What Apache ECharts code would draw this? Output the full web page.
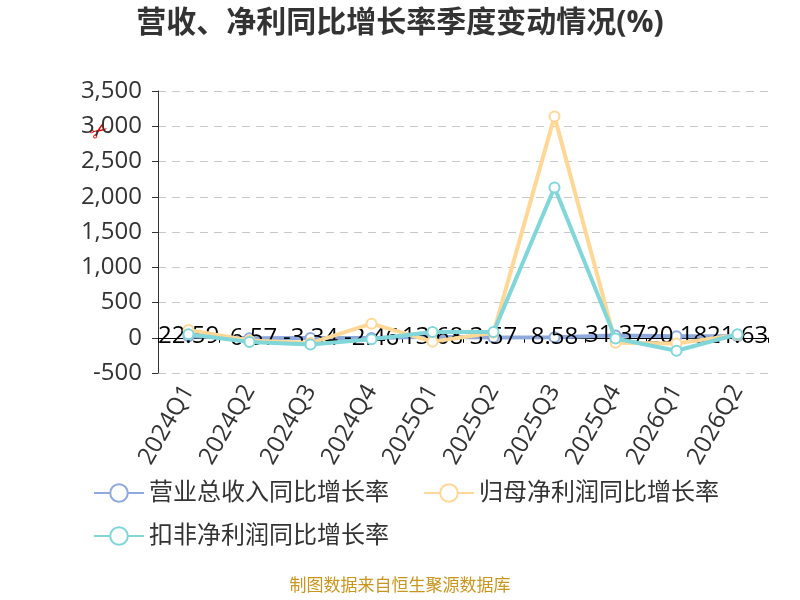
<!DOCTYPE html>
<html>
<head>
<meta charset="utf-8">
<script src="https://cdn.jsdelivr.net/npm/echarts@6/dist/echarts.min.js"></script>
<style>
html, body { margin: 0; padding: 0; background: #fff; }
#main { width: 800px; height: 600px; }
</style>
</head>
<body>
<div id="main"></div>
<script>
// 季度
var quarters = ['2024Q1', '2024Q2', '2024Q3', '2024Q4', '2025Q1', '2025Q2', '2025Q3', '2025Q4', '2026Q1', '2026Q2'];
// 营业总收入同比增长率
var revenueGrowth = [22.59, -6.57, -3.34, -2.46, 13.68, 3.57, 8.58, 31.37, 20.18, 21.63];
// 归母净利润同比增长率（图上估读）
var netProfitGrowth = [110, -40, -75, 200, -55, 70, 3140, -70, -80, 40];
// 扣非净利润同比增长率（图上估读）
var deductedGrowth = [50, -60, -95, -20, 80, 80, 2130, -10, -185, 50];
// y 轴刻度
var yMin = -500, yMax = 3500, yStep = 500;

var seriesNames = ['营业总收入同比增长率', '归母净利润同比增长率', '扣非净利润同比增长率'];
var colors = ['#8EA9DC', '#FFD796', '#80D6D9'];
var font = "'Open Sans', 'Noto Sans CJK SC', sans-serif";

var myChart = echarts.init(document.getElementById('main'));

function lineSeries(i, data, withLabel) {
    return {
        name: seriesNames[i],
        type: 'line',
        xAxisIndex: 0,
        data: data,
        symbol: 'emptyCircle',
        symbolSize: 10,
        lineStyle: { width: 4, color: colors[i] },
        itemStyle: { color: colors[i], borderWidth: 2 },
        label: withLabel ? {
            show: true,
            position: 'inside',
            color: '#000',
            fontSize: 24,
            fontFamily: font
        } : { show: false },
        z: 2 + i
    };
}

var option = {
    animation: false,
    title: [{
        text: '营收、净利同比增长率季度变动情况(%)',
        left: 'center',
        top: 3,
        textStyle: { fontSize: 30, fontWeight: 'bold', color: '#333', fontFamily: font }
    }, {
        text: '制图数据来自恒生聚源数据库',
        left: 'center',
        bottom: 0,
        textStyle: { fontSize: 17, fontWeight: 'normal', color: '#C8961E', fontFamily: font }
    }],
    legend: [{
        data: [seriesNames[0], seriesNames[1]],
        left: 88,
        top: 476,
        itemWidth: 50,
        itemHeight: 22,
        itemGap: 34,
        textStyle: { fontSize: 24, color: '#333', fontFamily: font }
    }, {
        data: [seriesNames[2]],
        left: 88,
        top: 519,
        itemWidth: 50,
        itemHeight: 22,
        textStyle: { fontSize: 24, color: '#333', fontFamily: font }
    }],
    grid: { left: 158, right: 32, top: 91, bottom: 227 },
    xAxis: [{
        type: 'category',
        data: quarters,
        axisLine: { onZero: true, lineStyle: { color: '#000', width: 1 } },
        axisTick: { show: true, length: 5 },
        axisLabel: { show: false }
    }, {
        type: 'category',
        data: quarters,
        position: 'bottom',
        axisLine: { show: false, onZero: false },
        axisTick: { show: false },
        axisLabel: {
            rotate: 60,
            fontSize: 24,
            color: '#333',
            margin: 14,
            fontFamily: font
        }
    }],
    yAxis: {
        type: 'value',
        min: yMin,
        max: yMax,
        interval: yStep,
        axisLine: { show: true, lineStyle: { color: '#333' } },
        axisTick: { show: true, length: 6 },
        axisLabel: {
            fontSize: 24,
            color: '#333',
            margin: 16,
            fontFamily: font,
            formatter: function (v) { return v.toLocaleString('en-US'); }
        },
        splitLine: { lineStyle: { type: [8, 6], color: '#C8C8C8' } }
    },
    graphic: [{
        type: 'text',
        left: 86,
        top: 118,
        style: { text: '✂', fill: '#E00', font: '22px DejaVu Sans' },
        rotation: 0.6
    }],
    series: [
        lineSeries(0, revenueGrowth, true),
        lineSeries(1, netProfitGrowth, false),
        lineSeries(2, deductedGrowth, false)
    ]
};

myChart.setOption(option);
</script>
</body>
</html>
